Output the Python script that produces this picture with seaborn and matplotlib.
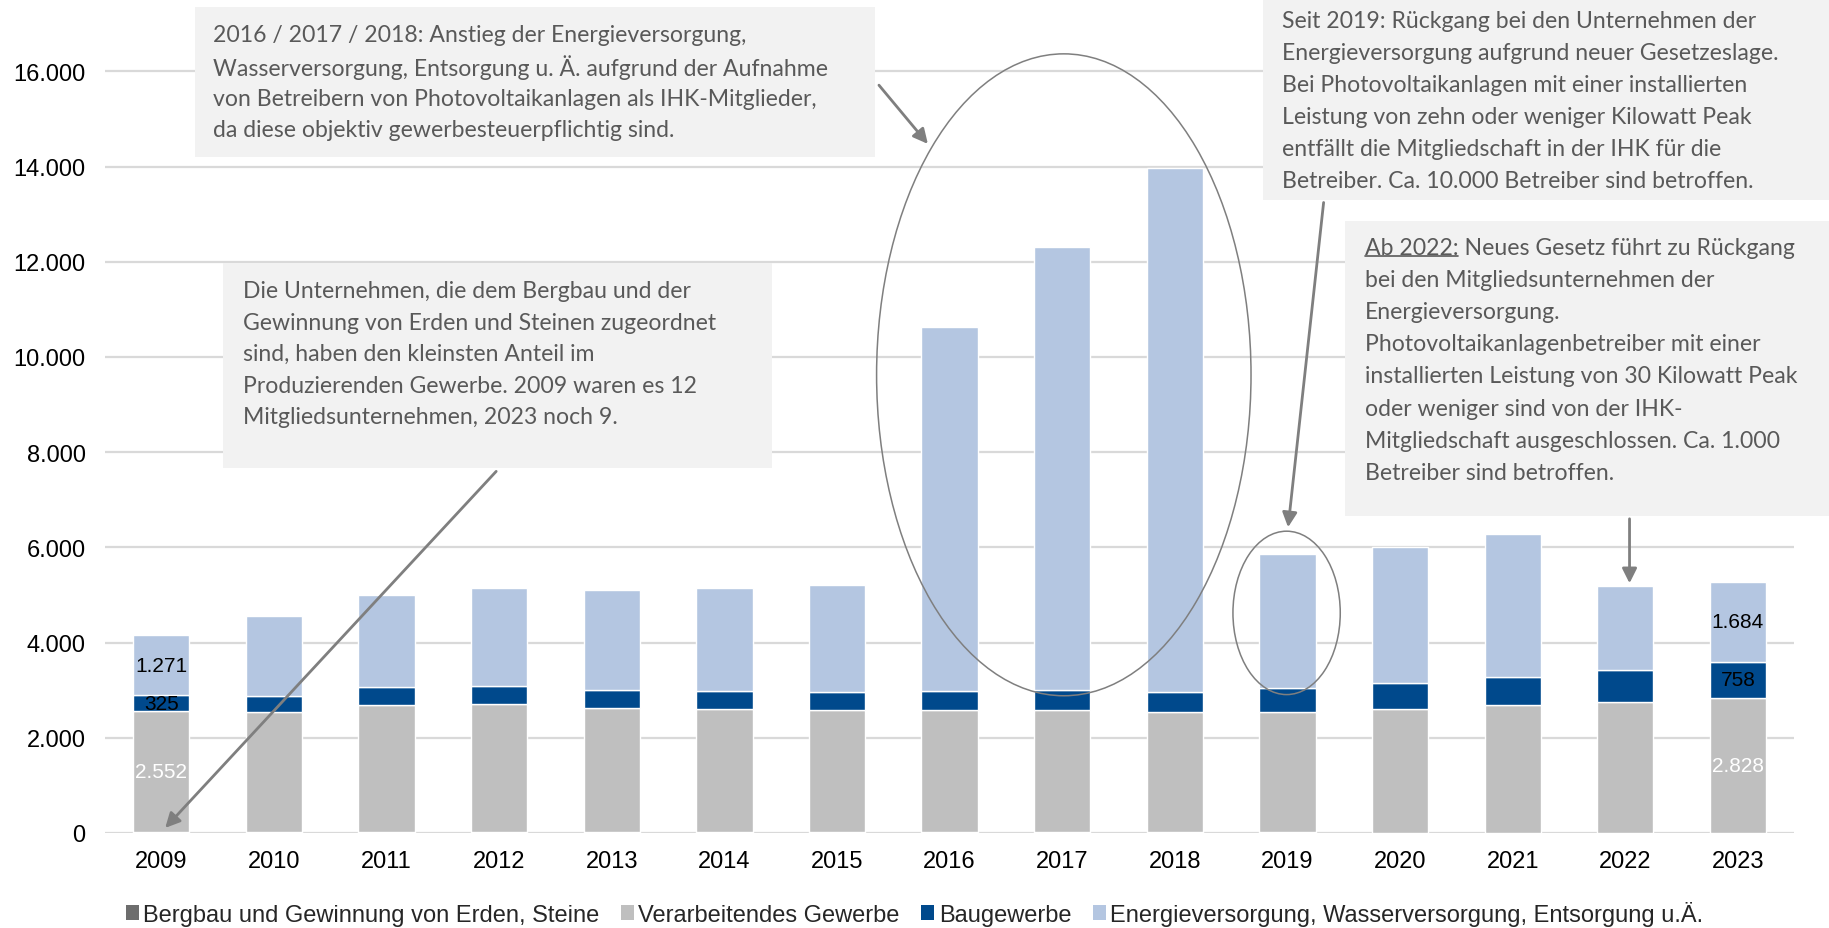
import numpy as np
import pandas as pd
import matplotlib
matplotlib.use("Agg")
import matplotlib.pyplot as plt
import seaborn as sb
from matplotlib.patches import Rectangle, Ellipse, FancyArrowPatch, Patch
from matplotlib.lines import Line2D
from matplotlib.ticker import FuncFormatter

# Daten (IHK-Mitglieder Produzierendes Gewerbe)
years = [str(y) for y in range(2009, 2024)]
bergbau = [12, 12, 11, 11, 11, 10, 10, 10, 10, 10, 10, 9, 9, 9, 9]
verarbeitend = [2552, 2520, 2680, 2700, 2610, 2600, 2580, 2580, 2570, 2530, 2530, 2590, 2670, 2750, 2828]
bau = [325, 340, 370, 370, 390, 380, 380, 390, 420, 430, 500, 550, 600, 670, 758]
energie = [1271, 1680, 1930, 2070, 2100, 2160, 2230, 7640, 9310, 10990, 2810, 2860, 3000, 1760, 1684]

series_names = ["Bergbau und Gewinnung von Erden, Steine", "Verarbeitendes Gewerbe",
                "Baugewerbe", "Energieversorgung, Wasserversorgung, Entsorgung u.Ä."]
series_colors = ["#6D6D6D", "#BFBFBF", "#00498C", "#B4C6E1"]

df = pd.DataFrame({"Jahr": years, series_names[0]: bergbau, series_names[1]: verarbeitend,
                   series_names[2]: bau, series_names[3]: energie})

sb.set_style("white")
plt.rcParams["font.family"] = ["Liberation Sans", "DejaVu Sans"]

fig = plt.figure(figsize=(18.29, 9.29), dpi=100)
ax = fig.add_axes([0.0574, 0.1023, 0.9236, 0.8224])

bottom = np.zeros(len(years))
for name, col in zip(series_names, series_colors):
    sb.barplot(data=df, x="Jahr", y=name, bottom=bottom.copy(), color=col, width=0.5,
               saturation=1, errorbar=None, ax=ax, zorder=3)
    bottom += df[name].values

ax.set_ylim(0, 16050)
ax.set_xlim(-0.5, len(years) - 0.5)
ax.set_yticks(range(0, 16001, 2000))
ax.yaxis.set_major_formatter(FuncFormatter(lambda v, p: f"{int(v):,}".replace(",", ".")))
ax.grid(axis="y", color="#D9D9D9", lw=1.6, zorder=0)
ax.set_axisbelow(True)
for s in ax.spines.values():
    s.set_visible(False)
ax.set_xlabel("")
ax.set_ylabel("")
ax.tick_params(axis="both", length=0, labelsize=17, colors="black")
ax.tick_params(axis="x", pad=12)
ax.tick_params(axis="y", pad=14)

# Datenbeschriftungen 2009 und 2023
for i in [0, len(years) - 1]:
    b0 = bergbau[i]
    ax.text(i, b0 + verarbeitend[i] / 2, f"{verarbeitend[i]:,}".replace(",", "."), ha="center", va="center",
            fontsize=15, color="white", zorder=5)
    b1 = b0 + verarbeitend[i]
    ax.text(i, b1 + bau[i] / 2, f"{bau[i]:,}".replace(",", "."), ha="center", va="center",
            fontsize=15, color="black", zorder=5)
    b2 = b1 + bau[i]
    ax.text(i, b2 + energie[i] / 2, f"{energie[i]:,}".replace(",", "."), ha="center", va="center",
            fontsize=15, color="black", zorder=5)

handles = [Patch(facecolor=c, edgecolor="none") for c in series_colors]
fig.legend(handles, series_names, loc="center", bbox_to_anchor=(0.5, 0.016), ncol=4, frameon=False,
           fontsize=17, handlelength=0.55, handleheight=0.6, handletextpad=0.2, columnspacing=0.9)

# Textboxen, Pfeile, Ellipsen (Koordinaten relativ zur Bildgröße)
W, H = 1568, 796
def fx(x):
    return x / W
def fy(y):
    return 1 - y / H

grey_txt = "#595959"
note_font = ["Lato", "DejaVu Sans"]
note_size = 16.6

def note_box(x0, y0, x1, y1, tx, ys, lines):
    fig.add_artist(Rectangle((fx(x0), fy(y1)), fx(x1) - fx(x0), fy(y0) - fy(y1),
                             transform=fig.transFigure, facecolor="#F2F2F2", edgecolor="none", zorder=4))
    for yy, line in zip(ys, lines):
        fig.text(fx(tx), fy(yy), line, ha="left", va="center", fontsize=note_size, color=grey_txt,
                 family=note_font, zorder=6)

note_box(167, 7, 750, 135, 183, [30, 57.5, 85, 112], [
    "2016 / 2017 / 2018: Anstieg der Energieversorgung,",
    "Wasserversorgung, Entsorgung u. Ä. aufgrund der Aufnahme",
    "von Betreibern von Photovoltaikanlagen als IHK-Mitglieder,",
    "da diese objektiv gewerbesteuerpflichtig sind."])

note_box(191, 226, 662, 402, 208, [250, 277, 304, 331, 358], [
    "Die Unternehmen, die dem Bergbau und der",
    "Gewinnung von Erden und Steinen zugeordnet",
    "sind, haben den kleinsten Anteil im",
    "Produzierenden Gewerbe. 2009 waren es 12",
    "Mitgliedsunternehmen, 2023 noch 9."])

note_box(1083, 0, 1568, 172, 1099, [18, 45.5, 73, 100.5, 128, 155.5], [
    "Seit 2019: Rückgang bei den Unternehmen der",
    "Energieversorgung aufgrund neuer Gesetzeslage.",
    "Bei Photovoltaikanlagen mit einer installierten",
    "Leistung von zehn oder weniger Kilowatt Peak",
    "entfällt die Mitgliedschaft in der IHK für die",
    "Betreiber. Ca. 10.000 Betreiber sind betroffen."])

note_box(1153, 190, 1568, 443, 1170, [213, 240.5, 268, 295.5, 323, 350.5, 378, 405.5], [
    "Ab 2022: Neues Gesetz führt zu Rückgang",
    "bei den Mitgliedsunternehmen der",
    "Energieversorgung.",
    "Photovoltaikanlagenbetreiber mit einer",
    "installierten Leistung von 30 Kilowatt Peak",
    "oder weniger sind von der IHK-",
    "Mitgliedschaft ausgeschlossen. Ca. 1.000",
    "Betreiber sind betroffen."])

# Unterstreichung "Ab 2022:"
probe = fig.text(fx(1170), fy(213), "Ab 2022:", ha="left", va="center", fontsize=note_size,
                 family=note_font, alpha=0)
fig.canvas.draw()
bb = probe.get_window_extent(renderer=fig.canvas.get_renderer()).transformed(fig.transFigure.inverted())
probe.remove()
fig.add_artist(Line2D([bb.x0, bb.x1], [bb.y0 + 0.002, bb.y0 + 0.002], transform=fig.transFigure,
                      color=grey_txt, lw=1.2, zorder=6))

for cx, cy, w, h in [(912, 322, 321, 550), (1103, 526, 92, 140)]:
    fig.add_artist(Ellipse((fx(cx), fy(cy)), w / W, h / H, transform=fig.transFigure,
                           fill=False, edgecolor="#7F7F7F", lw=1.1, zorder=5))

for (x0, y0), (x1, y1) in [((752, 72), (797, 126)), ((427, 403), (140, 712)),
                           ((1135, 172), (1104, 455)), ((1397, 443), (1397, 503))]:
    fig.add_artist(FancyArrowPatch((fx(x0), fy(y0)), (fx(x1), fy(y1)), transform=fig.transFigure,
                                   arrowstyle="-|>", mutation_scale=22, color="#7F7F7F", lw=2, zorder=5))

plt.savefig("out.png", dpi=100)
